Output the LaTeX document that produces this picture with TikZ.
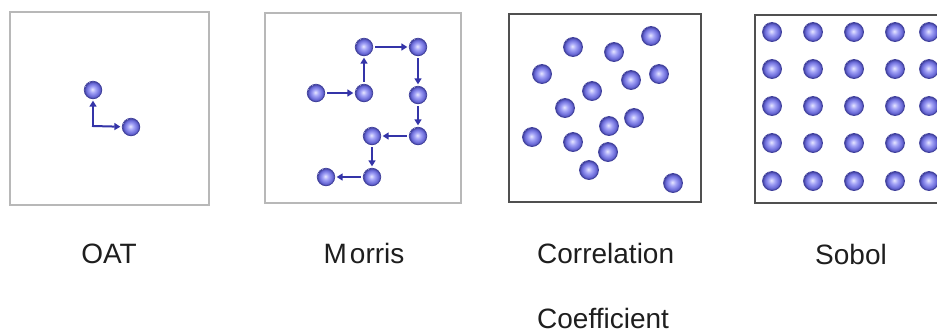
\documentclass[tikz,border=0pt]{standalone}
\usepackage{fontspec}
\setmainfont{Liberation Sans}
\usetikzlibrary{arrows.meta}

\definecolor{ballhi}{HTML}{E6E6FF}
\definecolor{ballmid}{HTML}{A2A2F6}
\definecolor{balldark}{HTML}{6A6AD8}
\definecolor{balledge}{HTML}{40409C}
\definecolor{arrowcol}{HTML}{3434A8}
\definecolor{lightframe}{HTML}{B8B8B8}
\definecolor{darkframe}{HTML}{505050}
\definecolor{labelcol}{HTML}{1E1E1E}

\pgfdeclareradialshading{sphere}{\pgfpoint{-2bp}{2bp}}{%
  color(0bp)=(ballhi); color(9bp)=(ballmid); color(19bp)=(balldark); color(25bp)=(balledge)}

\tikzset{
  ball/.style={circle, inner sep=0pt, minimum size=17.5pt, shade, shading=sphere,
               draw=balledge, line width=0.8pt},
  bigball/.style={ball, minimum size=19pt},
  link/.style={draw=arrowcol, line width=2pt, shorten <=2pt, shorten >=1.5pt,
               -{Triangle[length=6pt,width=7pt]}},
  lightbox/.style={draw=lightframe, line width=1.3pt},
  darkbox/.style={draw=darkframe, line width=2.4pt},
  caption/.style={font=\fontsize{28}{32}\selectfont, text=labelcol, inner sep=0pt}
}

\begin{document}
\begin{tikzpicture}[x=1pt, y=-1pt]
\useasboundingbox (0,0) rectangle (937,335);
\clip (0,0) rectangle (937,335);

% ---------- OAT ----------
\draw[lightbox] (10,12) rectangle (209,205);
\node[ball] (o1) at (93,90) {};
\node[ball] (o2) at (131,127) {};
\coordinate (oc) at (93,126);
\draw[link, shorten <=-1pt] (oc) -- (o1);
\draw[link, shorten <=-1pt] (oc) -- (o2);
\node[caption, anchor=base] (oat) at (109,263) {OAT};

% ---------- Morris ----------
\draw[lightbox] (265,13) rectangle (461,203);
\node[ball] (m1) at (316,93) {};
\node[ball] (m2) at (364,93) {};
\node[ball] (m3) at (364,47) {};
\node[ball] (m4) at (418,47) {};
\node[ball] (m5) at (418,95) {};
\node[ball] (m6) at (418,136) {};
\node[ball] (m7) at (372,136) {};
\node[ball] (m8) at (372,177) {};
\node[ball] (m9) at (326,177) {};
\draw[link] (m1) -- (m2);
\draw[link] (m2) -- (m3);
\draw[link] (m3) -- (m4);
\draw[link] (m4) -- (m5);
\draw[link] (m5) -- (m6);
\draw[link] (m6) -- (m7);
\draw[link] (m7) -- (m8);
\draw[link] (m8) -- (m9);
\node[caption, anchor=base] (morris) at (364,263) {M\kern3pt orris};

% ---------- Correlation Coefficient ----------
\draw[darkbox] (509,14) rectangle (701,202);
\foreach \px/\py [count=\i] in {573/47, 614/52, 651/36, 542/74, 631/80, 659/74,
    592/91, 565/108, 634/118, 609/126, 532/137, 573/142, 608/152, 589/170, 673/183}
  \node[bigball] (c\i) at (\px,\py) {};
\node[caption, anchor=base west] (corr) at (537,263) {Correlation};
\node[caption, anchor=base west] (coef) at (537,328) {Coefficient};

% ---------- Sobol ----------
\draw[darkbox] (755,15) rectangle (960,203);
\foreach \px [count=\i] in {772,813,854,895,929}
  \foreach \py [count=\j] in {32,69,106,143,181}
    \node[bigball] (s\i\j) at (\px,\py) {};
\node[caption, anchor=base] (sobol) at (851,264) {Sobol};
\end{tikzpicture}
\end{document}
